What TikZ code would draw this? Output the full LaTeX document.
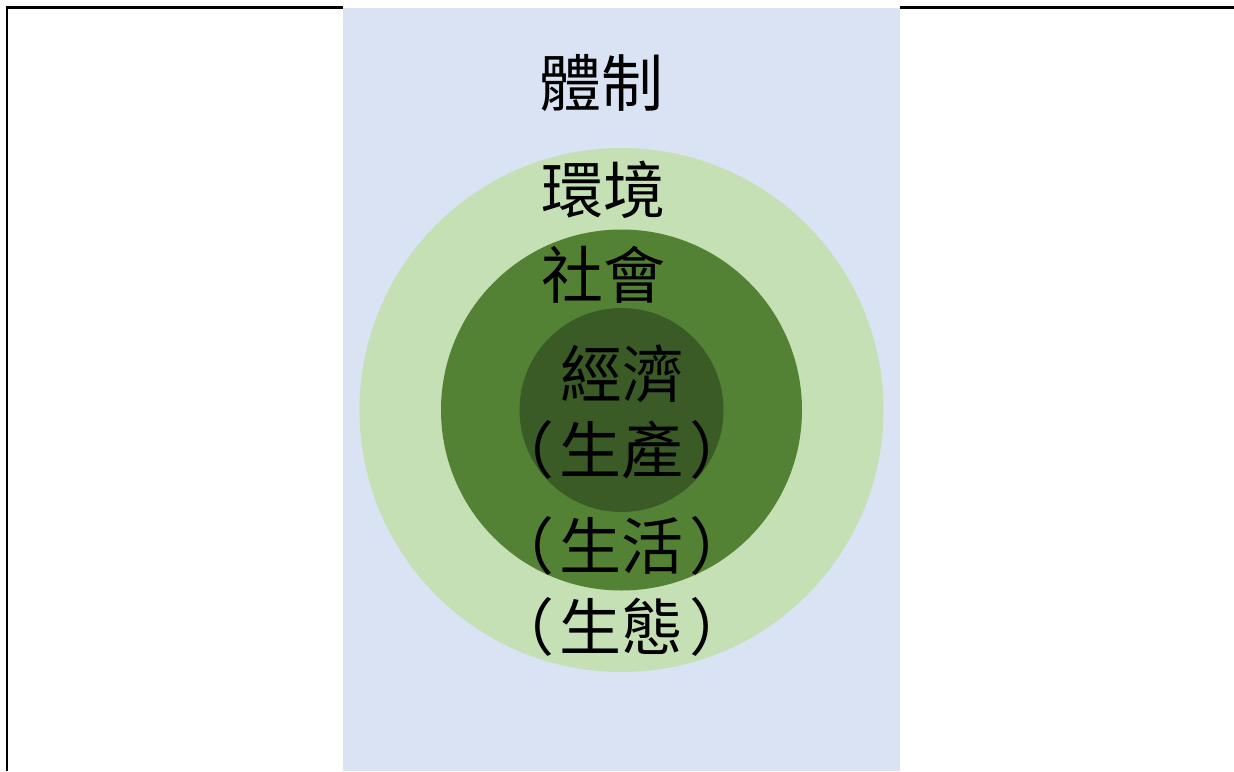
\documentclass[tikz,border=0pt]{standalone}
\usepackage{fontspec}
\newfontfamily\cjk{Noto Sans CJK TC}
\usepackage{tikz}
\definecolor{tizhiblue}{HTML}{DAE3F3}
\definecolor{lightgreen}{HTML}{C5E0B4}
\definecolor{midgreen}{HTML}{548235}
\definecolor{darkgreen}{HTML}{3A5A26}
\tikzset{lbl/.style={inner sep=0pt,font=\cjk\fontsize{62}{68}\selectfont}}
\newcommand{\pgap}{\kern6pt}

\begin{document}
\begin{tikzpicture} [x=1pt,y=-1pt]
\useasboundingbox (0,0) rectangle (1234,771);
\draw [line width=2.6pt] (7,771)--(7,7.7)--(343,7.7);
\draw [line width=2.6pt] (900,7.7)--(1234,7.7);
\fill [tizhiblue] (343,8) rectangle (900,771);
% circles
\fill [lightgreen] (621.5,410) circle (262);
\fill [midgreen] (621.5,410) circle (180.5);
\fill [darkgreen] (621.5,410) circle (102);
% labels
\node [lbl] (tizhi) at (601,83) {體制};
\node [lbl] (huanjing) at (603,190) {環境};
\node [lbl] (shehui) at (603,275) {社會};
\node [lbl] (jingji) at (622,374) {經濟};
\node [lbl] (shengchan) at (622,450) {（\pgap 生產\pgap ）};
\node [lbl] (shenghuo) at (622,546) {（\pgap 生活\pgap ）};
\node [lbl] (shengtai) at (622,627) {（\pgap 生態\pgap ）};
\end{tikzpicture}
\end{document}
